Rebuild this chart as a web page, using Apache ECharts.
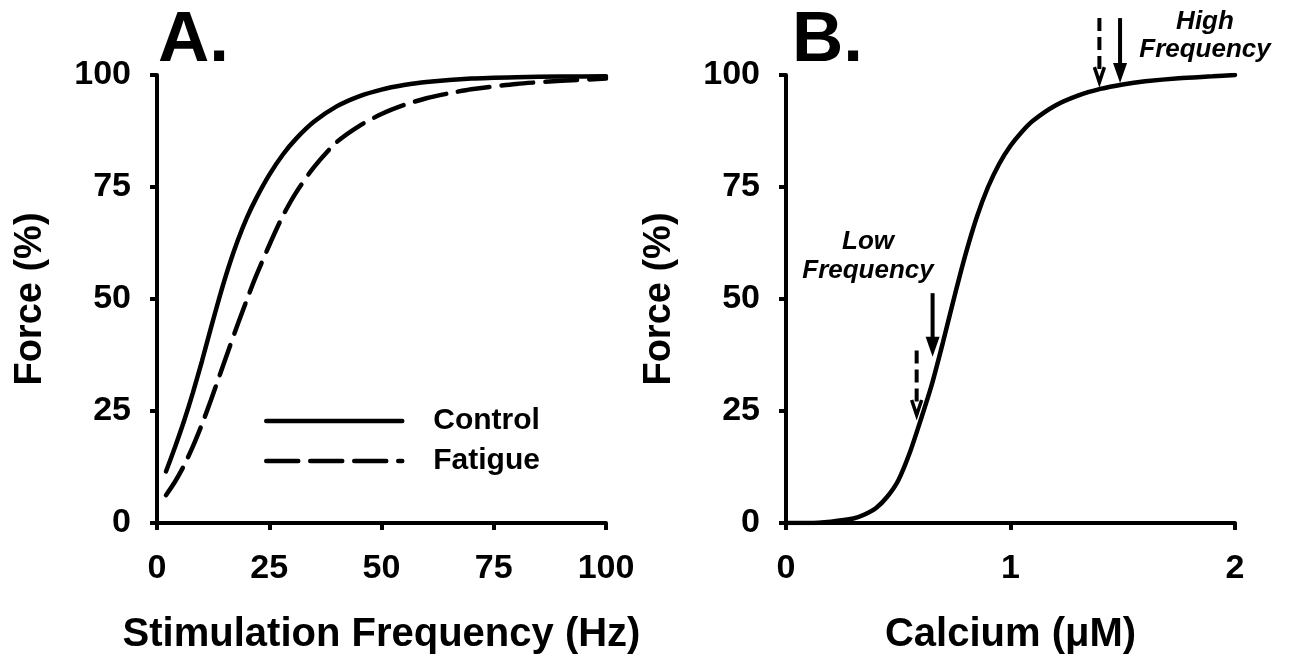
<!DOCTYPE html>
<html>
<head>
<meta charset="utf-8">
<script src="https://cdn.jsdelivr.net/npm/echarts@6/dist/echarts.min.js"></script>
<style>
html,body{margin:0;padding:0;background:#fff;}
#chart{width:1292px;height:662px;}
</style>
</head>
<body>
<div id="chart"></div>
<script>
// Panel A: force-frequency (Hz, %)
const controlHz  = [2, 4, 6, 8, 10, 12, 14, 16, 18, 20, 22, 25, 28, 31, 35, 40, 45, 50, 55, 60, 70, 80, 90, 100];
const controlF   = [11.5, 16.9, 22.7, 29.1, 36.1, 43.5, 50.7, 57.3, 63.1, 68.1, 72.3, 77.7, 82.2, 85.8, 89.6, 93.0, 95.25, 96.75, 97.75, 98.45, 99.2, 99.5, 99.65, 99.7];
const fatigueHz  = [2, 4, 6, 8, 10, 12, 14, 16, 18, 20, 22, 25, 28, 31, 35, 40, 45, 50, 55, 60, 65, 70, 80, 90, 100];
const fatigueF   = [6.2, 9.2, 12.8, 17.1, 22, 27.4, 33.1, 38.8, 44.4, 49.8, 55, 62, 68.5, 73.8, 79.5, 85, 88.6, 91.3, 93.3, 94.8, 95.9, 96.8, 98.0, 98.7, 99.2];
// Panel B: force-calcium (uM, %)
const calcium    = [0, 0.1, 0.2, 0.3, 0.35, 0.4, 0.45, 0.5, 0.55, 0.6, 0.65, 0.7, 0.75, 0.8, 0.85, 0.9, 0.95, 1.0, 1.05, 1.1, 1.2, 1.3, 1.4, 1.5, 1.6, 1.75, 1.9, 2.0];
const calciumF   = [0, 0, 0.3, 1.0, 1.9, 3.3, 5.8, 9.5, 15.5, 23, 31, 40.5, 50.5, 60, 68.3, 75, 80.2, 84.2, 87.3, 89.8, 93.2, 95.4, 96.9, 97.9, 98.6, 99.3, 99.7, 100];
// Arrows in panel B (x, shaft top, tip, dashed?)
const arrowX      = [0.582, 0.653, 1.396, 1.488];
const arrowTop    = [38.5, 51.3, 112.7, 112.7];
const arrowTip    = [24.1, 37.1, 98.4, 98.2];
const arrowDashed = [1, 0, 1, 0];
// Ticks
const forceTicks = [0, 25, 50, 75, 100];
const freqTicks = [0, 25, 50, 75, 100];
const calciumTicks = [0, 1, 2];

const FONT = '"Liberation Sans", Arial, Helvetica, sans-serif';
const axisLineStyle = { color: '#000', width: 4 };

function yAxisCfg(idx) {
  return {
    gridIndex: idx, type: 'value', min: forceTicks[0], max: forceTicks[forceTicks.length - 1],
    interval: forceTicks[1] - forceTicks[0],
    name: 'Force (%)', nameLocation: 'middle', nameGap: 107,
    nameTextStyle: { fontFamily: FONT, fontWeight: 'bold', fontSize: 38, color: '#000' },
    axisLine: { show: true, lineStyle: axisLineStyle },
    axisTick: { show: true, length: 7, lineStyle: { color: '#000', width: 4 } },
    axisLabel: { margin: 26, fontFamily: FONT, fontWeight: 'bold', fontSize: 34, color: '#000' },
    splitLine: { show: false }
  };
}

const lineCommon = { smooth: 0.25, showSymbol: false, symbol: 'none' };

const chart = echarts.init(document.getElementById('chart'), null, { renderer: 'canvas' });
const option = {
  backgroundColor: '#fff',
  animation: false,
  title: [
    { text: 'A.', left: 158, top: 6, padding: 0, textStyle: { fontFamily: FONT, fontWeight: 'bold', fontSize: 71, color: '#000' } },
    { text: 'B.', left: 792, top: 6, padding: 0, textStyle: { fontFamily: FONT, fontWeight: 'bold', fontSize: 71, color: '#000' } }
  ],
  grid: [
    { left: 157, top: 75, width: 449, height: 448, containLabel: false, outerBoundsMode: 'none' },
    { left: 786, top: 75, width: 449, height: 448, containLabel: false, outerBoundsMode: 'none' }
  ],
  legend: {
    data: ['Control', 'Fatigue'], orient: 'vertical', left: 264, top: 406, padding: 0,
    itemWidth: 136, itemHeight: 14, itemGap: 10, selectedMode: false,
    lineStyle: { width: 4.5 },
    itemStyle: { opacity: 0, color: 'rgba(0,0,0,0)', borderWidth: 0 },
    textStyle: { fontFamily: FONT, fontWeight: 'bold', fontSize: 30, color: '#000', padding: [0, 0, 0, 26] }
  },
  xAxis: [
    {
      gridIndex: 0, type: 'value', min: freqTicks[0], max: freqTicks[freqTicks.length - 1], interval: freqTicks[1] - freqTicks[0],
      name: 'Stimulation Frequency (Hz)', nameLocation: 'middle', nameGap: 92,
      nameTextStyle: { fontFamily: FONT, fontWeight: 'bold', fontSize: 40, color: '#000' },
      axisLine: { show: true, onZero: false, lineStyle: axisLineStyle },
      axisTick: { show: true, length: 7, lineStyle: { color: '#000', width: 4 } },
      axisLabel: { margin: 29, fontFamily: FONT, fontWeight: 'bold', fontSize: 34, color: '#000' },
      splitLine: { show: false }
    },
    {
      gridIndex: 1, type: 'value', min: calciumTicks[0], max: calciumTicks[calciumTicks.length - 1], interval: calciumTicks[1] - calciumTicks[0],
      name: 'Calcium (\u03BCM)', nameLocation: 'middle', nameGap: 92,
      nameTextStyle: { fontFamily: FONT, fontWeight: 'bold', fontSize: 40, color: '#000' },
      axisLine: { show: true, onZero: false, lineStyle: axisLineStyle },
      axisTick: { show: true, length: 7, lineStyle: { color: '#000', width: 4 } },
      axisLabel: { margin: 29, fontFamily: FONT, fontWeight: 'bold', fontSize: 34, color: '#000' },
      splitLine: { show: false }
    }
  ],
  yAxis: [yAxisCfg(0), yAxisCfg(1)],
  series: [
    Object.assign({
      name: 'Control', type: 'line', xAxisIndex: 0, yAxisIndex: 0,
      data: controlHz.map((x, i) => [x, controlF[i]]),
      lineStyle: { color: '#000', width: 4.5, cap: 'round' }, itemStyle: { color: '#000' }
    }, lineCommon),
    Object.assign({
      name: 'Fatigue', type: 'line', xAxisIndex: 0, yAxisIndex: 0,
      data: fatigueHz.map((x, i) => [x, fatigueF[i]]),
      lineStyle: { color: '#000', width: 4.5, type: [32, 12], cap: 'round' }, itemStyle: { color: '#000' }
    }, lineCommon),
    Object.assign({
      name: 'Calcium', type: 'line', xAxisIndex: 1, yAxisIndex: 1,
      data: calcium.map((x, i) => [x, calciumF[i]]),
      lineStyle: { color: '#000', width: 4.5, cap: 'round' }, itemStyle: { color: '#000' }
    }, lineCommon),
    {
      name: 'Arrows', type: 'custom', xAxisIndex: 1, yAxisIndex: 1, clip: false, z: 5,
      data: arrowX.map((x, i) => [x, arrowTop[i], arrowTip[i], arrowDashed[i]]),
      encode: { x: 0, y: [1, 2] },
      renderItem: function (params, api) {
        const x = api.value(0), top = api.value(1), tip = api.value(2), dashed = api.value(3);
        const p1 = api.coord([x, top]);
        const p2 = api.coord([x, tip]);
        const headLen = dashed ? 15 : 20;
        const headW = dashed ? 5 : 7;
        const children = [{
          type: 'line',
          shape: { x1: p1[0], y1: p1[1], x2: p2[0], y2: p2[1] - headLen + 2 },
          style: { stroke: '#000', lineWidth: 4, lineDash: dashed ? [13, 6] : null }
        }];
        if (dashed) {
          children.push({
            type: 'polyline',
            shape: { points: [[p2[0] - headW, p2[1] - headLen], [p2[0], p2[1]], [p2[0] + headW, p2[1] - headLen]] },
            style: { stroke: '#000', lineWidth: 3.5, fill: null }
          });
        } else {
          children.push({
            type: 'polygon',
            shape: { points: [[p2[0] - headW, p2[1] - headLen], [p2[0], p2[1]], [p2[0] + headW, p2[1] - headLen]] },
            style: { fill: '#000' }
          });
        }
        return { type: 'group', children: children };
      }
    }
  ],
  graphic: [
    {
      type: 'text', x: 868, y: 227,
      style: { text: 'Low\nFrequency', align: 'center', verticalAlign: 'top', lineHeight: 29,
               font: 'italic bold 26px ' + FONT, fill: '#000' }
    },
    {
      type: 'text', x: 1205, y: 8,
      style: { text: 'High\nFrequency', align: 'center', verticalAlign: 'top', lineHeight: 28,
               font: 'italic bold 26px ' + FONT, fill: '#000' }
    }
  ]
};
chart.setOption(option);
</script>
</body>
</html>
